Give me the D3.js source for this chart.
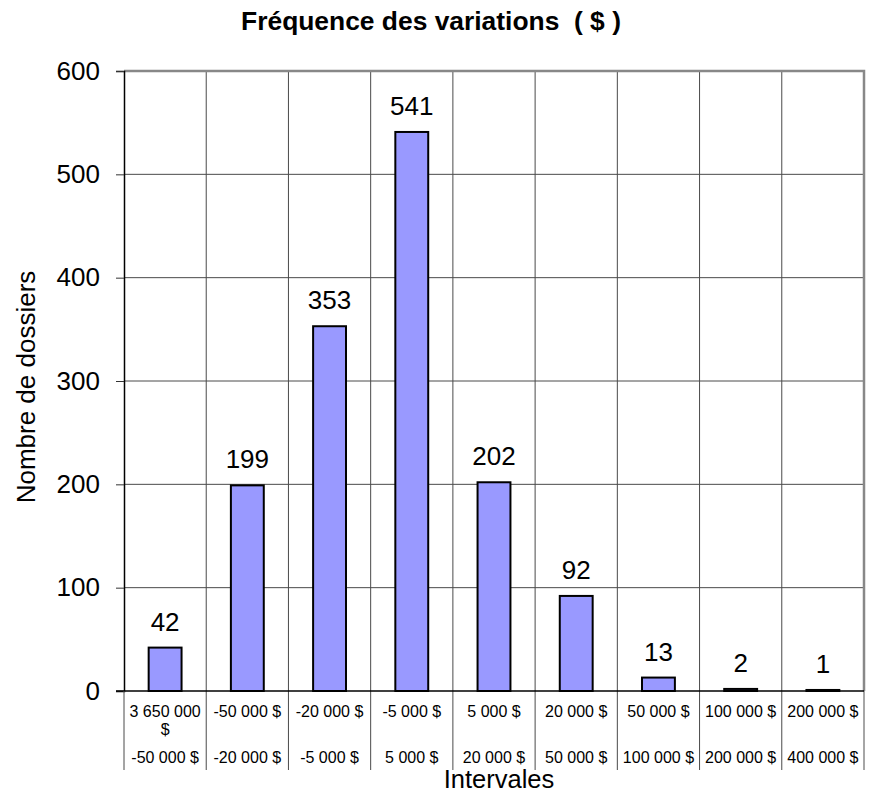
<!DOCTYPE html>
<html>
<head>
<meta charset="utf-8">
<script src="https://cdn.jsdelivr.net/npm/d3@7"></script>
<style>
  html, body { margin: 0; padding: 0; background: #fff; }
  svg { display: block; font-family: "Liberation Sans", Arial, sans-serif; }
</style>
</head>
<body>
<svg id="chart" width="873" height="794"></svg>
<script>
// Interval bounds (lower / upper) and number of files in each interval
const lowerBounds = ["3 650 000 $", "-50 000 $", "-20 000 $", "-5 000 $", "5 000 $", "20 000 $", "50 000 $", "100 000 $", "200 000 $"];
const upperBounds = ["-50 000 $", "-20 000 $", "-5 000 $", "5 000 $", "20 000 $", "50 000 $", "100 000 $", "200 000 $", "400 000 $"];
const counts = [42, 199, 353, 541, 202, 92, 13, 2, 1];
const yTicks = [0, 100, 200, 300, 400, 500, 600];

const titleText = "Fréquence des variations  ( $ )";
const xTitle = "Intervales";
const yTitle = "Nombre de dossiers";

const svg = d3.select("#chart");
const plot = { left: 124, right: 864, top: 71, bottom: 691 };

const idx = d3.range(counts.length);
const x = d3.scaleBand().domain(idx).range([plot.left, plot.right]).paddingInner(0).paddingOuter(0);
const y = d3.scaleLinear().domain([0, 600]).range([plot.bottom, plot.top]);

const barW = x.bandwidth() * 0.4;

// horizontal gridlines
svg.append("g").selectAll("line").data(yTicks.filter(d => d > 0 && d < 600)).join("line")
  .attr("x1", plot.left).attr("x2", plot.right)
  .attr("y1", d => y(d)).attr("y2", d => y(d))
  .attr("stroke", "#4a4a4a").attr("stroke-width", 1);

// vertical separators between intervals, running down through the label area
svg.append("g").selectAll("line").data(d3.range(1, counts.length)).join("line")
  .attr("x1", d => x(d)).attr("x2", d => x(d))
  .attr("y1", plot.top).attr("y2", 770)
  .attr("stroke", "#4a4a4a").attr("stroke-width", 1);

// plot frame (top and right)
svg.append("path")
  .attr("d", `M${plot.left},${plot.top}H${plot.right}V${plot.bottom}`)
  .attr("fill", "none").attr("stroke", "#888").attr("stroke-width", 2.5);
svg.append("line")
  .attr("x1", plot.right).attr("x2", plot.right)
  .attr("y1", plot.bottom).attr("y2", 770)
  .attr("stroke", "#888").attr("stroke-width", 1.5);

// y axis
const yAxis = d3.axisLeft(y).tickValues(yTicks).tickSize(8).tickPadding(16);
const gy = svg.append("g").attr("transform", `translate(${plot.left},0)`).call(yAxis);
gy.select(".domain").attr("stroke", "#000").attr("stroke-width", 1.5);
gy.selectAll(".tick line").attr("stroke", "#333");
gy.selectAll(".tick text").attr("font-size", 26).attr("fill", "#000")
  .attr("font-family", "Liberation Sans, Arial, sans-serif");

// x axis baseline
svg.append("line")
  .attr("x1", plot.left - 8).attr("x2", plot.right)
  .attr("y1", plot.bottom).attr("y2", plot.bottom)
  .attr("stroke", "#000").attr("stroke-width", 1.5);
svg.append("line")
  .attr("x1", plot.left).attr("x2", plot.left)
  .attr("y1", plot.bottom).attr("y2", 770)
  .attr("stroke", "#4a4a4a").attr("stroke-width", 1);

// bars
svg.append("g").selectAll("rect").data(idx).join("rect")
  .attr("x", i => x(i) + (x.bandwidth() - barW) / 2)
  .attr("width", barW)
  .attr("y", i => y(counts[i]))
  .attr("height", i => y(0) - y(counts[i]))
  .attr("fill", "#9999ff")
  .attr("stroke", "#000").attr("stroke-width", 2);

// value labels
svg.append("g").selectAll("text").data(idx).join("text")
  .attr("x", i => x(i) + x.bandwidth() / 2)
  .attr("y", i => y(counts[i]) - 17)
  .attr("text-anchor", "middle")
  .attr("font-size", 26)
  .text(i => counts[i]);

// interval labels: lower bound (wrapped if too wide) and upper bound
const lab = svg.append("g").attr("font-size", 16).attr("text-anchor", "middle");
idx.forEach(i => {
  const cx = x(i) + x.bandwidth() / 2;
  const t = lab.append("text").attr("x", cx).attr("y", 717);
  const s = lowerBounds[i];
  t.text(s);
  if (t.node().getComputedTextLength() > x.bandwidth() - 6) {
    const parts = s.split(" ");
    const last = parts.pop();
    t.text(parts.join(" "));
    lab.append("text").attr("x", cx).attr("y", 735).text(last);
  }
  lab.append("text").attr("x", cx).attr("y", 763).text(upperBounds[i]);
});

// titles
svg.append("text")
  .attr("x", 431).attr("y", 30)
  .attr("text-anchor", "middle")
  .attr("font-size", 26.4).attr("font-weight", "bold")
  .style("white-space", "pre")
  .text(titleText);

svg.append("text")
  .attr("x", 499).attr("y", 788)
  .attr("text-anchor", "middle")
  .attr("font-size", 25.5)
  .text(xTitle);

svg.append("text")
  .attr("transform", "translate(35,387) rotate(-90)")
  .attr("text-anchor", "middle")
  .attr("font-size", 26)
  .text(yTitle);
</script>
</body>
</html>
